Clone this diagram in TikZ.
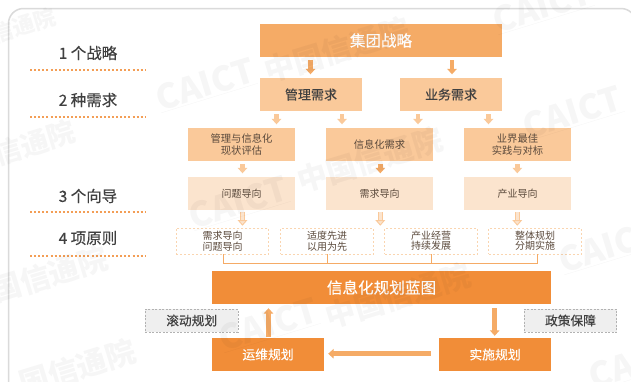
\documentclass[tikz,border=0pt]{standalone}
\usepackage{fontspec}
\setmainfont{Noto Sans CJK SC}
\newfontfamily\medfont{Noto Sans CJK SC}[FakeBold=0.3]
\usetikzlibrary{arrows.meta,calc}
\definecolor{cframe}{HTML}{DADADA}
\definecolor{cdeep}{HTML}{F18D38}
\definecolor{cone}{HTML}{F5AB66}
\definecolor{ctwo}{HTML}{FAC99A}
\definecolor{cthree}{HTML}{FBE4CE}
\definecolor{cdot}{HTML}{FAD5B0}
\definecolor{ctext}{HTML}{404040}
\definecolor{ctextb}{HTML}{5B4A3C}
\definecolor{cgrey}{HTML}{EFEFEF}
\tikzset{
  x=1pt,y=-1pt,
  box/.style={inner sep=0pt,align=center,minimum width=#1},
  sbox/.style={box=242pt,minimum height=33pt,fill=cone,text=white,font=\medfont\fontsize{15.5}{17}\selectfont},
  needbox/.style={box=102pt,minimum height=33pt,fill=ctwo,text=ctext,font=\medfont\fontsize{13}{15}\selectfont},
  thirdbox/.style={box=107pt,minimum height=33pt,fill=ctwo,text=ctextb,font=\fontsize{10.3}{11.3}\selectfont},
  guidebox/.style={box=107pt,minimum height=33pt,fill=cthree,text=ctextb,font=\fontsize{10}{11}\selectfont},
  rulebox/.style={box=92.5pt,minimum height=26pt,draw=cdot,line width=.9pt,dash pattern=on 2pt off 2pt,text=ctextb,font=\fontsize{10}{10.4}\selectfont},
  deepbox/.style={box=#1,minimum height=33pt,fill=cdeep,text=white},
  greybox/.style={box=92.5pt,minimum height=23pt,fill=cgrey,draw=gray!60,line width=.8pt,dash pattern=on 2pt off 1.5pt,text=ctext,font=\medfont\fontsize{12.7}{14}\selectfont},
  lab/.style={text=ctext,inner sep=0pt,font=\medfont\fontsize{15.5}{17}\selectfont},
  dotline/.style={cdeep!85,line width=1.6pt,dash pattern=on 2pt off 2.1pt},
  farrow/.style={line width=4.6pt,draw=#1,-{Triangle[length=5.5pt,width=9.5pt,fill=#1]},shorten <=3pt,shorten >=3.5pt},
  oarrow/.style={line width=.9pt,draw=ctwo,double=cthree,double distance=3.2pt,-{Triangle[length=5.5pt,width=9.5pt,open,fill=cthree]},shorten <=2pt,shorten >=2.5pt},
  bar/.style={draw=cone,line width=.95pt},
  wm/.style={black,opacity=.035,rotate=17,anchor=west,inner sep=0pt,font=\fontsize{#1}{#1}\selectfont\bfseries},
}
\begin{document}
\begin{tikzpicture}
\useasboundingbox (0,0) rectangle (631,381);
\clip (0,0) rectangle (631,381);
\fill[white] (0,0) rectangle (631,381);
\draw[cframe,line width=1.5pt,rounded corners=15pt] (8.5,8.5) rectangle (636,396);

% left labels
\node[lab] (l1) at (88,53) {1 个战略};
\node[lab] (l2) at (88,100) {2 种需求};
\node[lab] (l3) at (88,196) {3 个向导};
\node[lab] (l4) at (88,238) {4 项原则};
\coordinate (d1a) at (30,70); \coordinate (d1b) at (146,70);
\coordinate (d2a) at (30,117); \coordinate (d2b) at (146,117);
\coordinate (d3a) at (30,212); \coordinate (d3b) at (146,212);
\coordinate (d4a) at (30,256); \coordinate (d4b) at (146,256);
\draw[dotline] (d1a) -- (d1b);
\draw[dotline] (d2a) -- (d2b);
\draw[dotline] (d3a) -- (d3b);
\draw[dotline] (d4a) -- (d4b);

% boxes
\node[sbox] (s) at (381,40.5) {集团战略};
\node[needbox] (n1) at (311,94.5) {管理需求};
\node[needbox] (n2) at (451,94.5) {业务需求};
\node[thirdbox] (t1) at (241.5,144.5) {管理与信息化\\现状评估};
\node[thirdbox] (t2) at (379.5,144.5) {信息化需求};
\node[thirdbox] (t3) at (517.5,144.5) {业界最佳\\实践与对标};
\node[guidebox] (g1) at (241.5,193.5) {问题导向};
\node[guidebox] (g2) at (379.5,193.5) {需求导向};
\node[guidebox] (g3) at (517.5,193.5) {产业导向};
\node[rulebox] (r1) at (222.5,241) {需求导向\\问题导向};
\node[rulebox] (r2) at (327,241) {适度先进\\以用为先};
\node[rulebox] (r3) at (431,241) {产业经营\\持续发展};
\node[rulebox] (r4) at (535,241) {整体规划\\分期实施};
\node[deepbox=339pt,font=\medfont\fontsize{15.6}{17}\selectfont] (bp) at (381.5,287.5) {信息化规划蓝图};
\node[greybox] (gl) at (191.7,320.5) {滚动规划};
\node[greybox] (gr) at (570.5,320.5) {政策保障};
\node[deepbox=112pt,font=\medfont\fontsize{12.8}{14}\selectfont] (yw) at (268,354.5) {运维规划};
\node[deepbox=112pt,font=\medfont\fontsize{12.8}{14}\selectfont] (ss) at (495,354.5) {实施规划};

% arrows
\coordinate (a1) at (310.5,0); \coordinate (a2) at (452,0);
\coordinate (a3) at (276.5,0); \coordinate (a4) at (342,0);
\coordinate (a5) at (418,0); \coordinate (a6) at (488.5,0);
\coordinate (a7) at (242.5,0); \coordinate (a8) at (380.3,0); \coordinate (a9) at (517.3,0);
\draw[farrow=cone] (s.south -| a1) -- (n1.north -| a1);
\draw[farrow=cone] (s.south -| a2) -- (n2.north -| a2);
\draw[farrow=ctwo] (n1.south -| a3) -- (t1.north -| a3);
\draw[farrow=ctwo] (n1.south -| a4) -- (t2.north -| a4);
\draw[farrow=ctwo] (n2.south -| a5) -- (t2.north -| a5);
\draw[farrow=ctwo] (n2.south -| a6) -- (t3.north -| a6);
\draw[farrow=ctwo] (t1.south -| a7) -- (g1.north -| a7);
\draw[farrow=cone] (t2.south -| a8) -- (g2.north -| a8);
\draw[farrow=ctwo] (t3.south -| a9) -- (g3.north -| a9);
\draw[oarrow] (g1.south -| a7) -- ($(g1.south -| a7)+(0,18)$);
\draw[oarrow] (g2.south -| a8) -- ($(g2.south -| a8)+(0,18)$);
\draw[oarrow] (g3.south -| a9) -- ($(g3.south -| a9)+(0,18)$);

% bracket
\coordinate (bl) at (223,263); \coordinate (br) at (537,263);
\draw[bar] (r1.south -| bl) -- (bl) -- (br) -- (r4.south -| br);
\draw[bar] (r2.south) -- (r2.south |- bl);
\draw[bar] (r3.south) -- (r3.south |- bl);

% loop arrows
\coordinate (u) at (268.5,0); \coordinate (v) at (494.7,0); \coordinate (w) at (0,353.7);
\draw[farrow=cone,shorten <=.5pt,shorten >=4pt] (yw.north -| u) -- (bp.south -| u);
\draw[farrow=cone,shorten <=4pt,shorten >=2pt] (bp.south -| v) -- (ss.north -| v);
\draw[farrow=cone,shorten <=8pt,shorten >=4pt] (ss.west |- w) -- (yw.east |- w);

% watermarks
\node[wm=28] (w1) at (-6,155) {信通院};
\node[wm=34] (w2) at (157,100) {\underline{CAICT}};
\node[wm=30] (w3) at (265,72) {中国信通院};
\node[wm=22] (w4) at (-8,35) {信通院};
\node[wm=34] (w5) at (190,218) {\underline{CAICT}};
\node[wm=30] (w6) at (298,182) {中国信通院};
\node[wm=34] (w7) at (524,128) {\underline{CAICT}};
\node[wm=34] (w8) at (220,340) {\underline{CAICT}};
\node[wm=30] (w9) at (326,318) {中国信通院};
\node[wm=30] (w10) at (-8,292) {国信通院};
\node[wm=30] (w11) at (20,385) {国信通院};
\node[wm=34] (w12) at (560,262) {\underline{CAICT}};
\node[wm=34] (w13) at (494,22) {\underline{CAICT}};
\node[wm=34] (w14) at (590,378) {\underline{CAICT}};
\end{tikzpicture}
\end{document}
